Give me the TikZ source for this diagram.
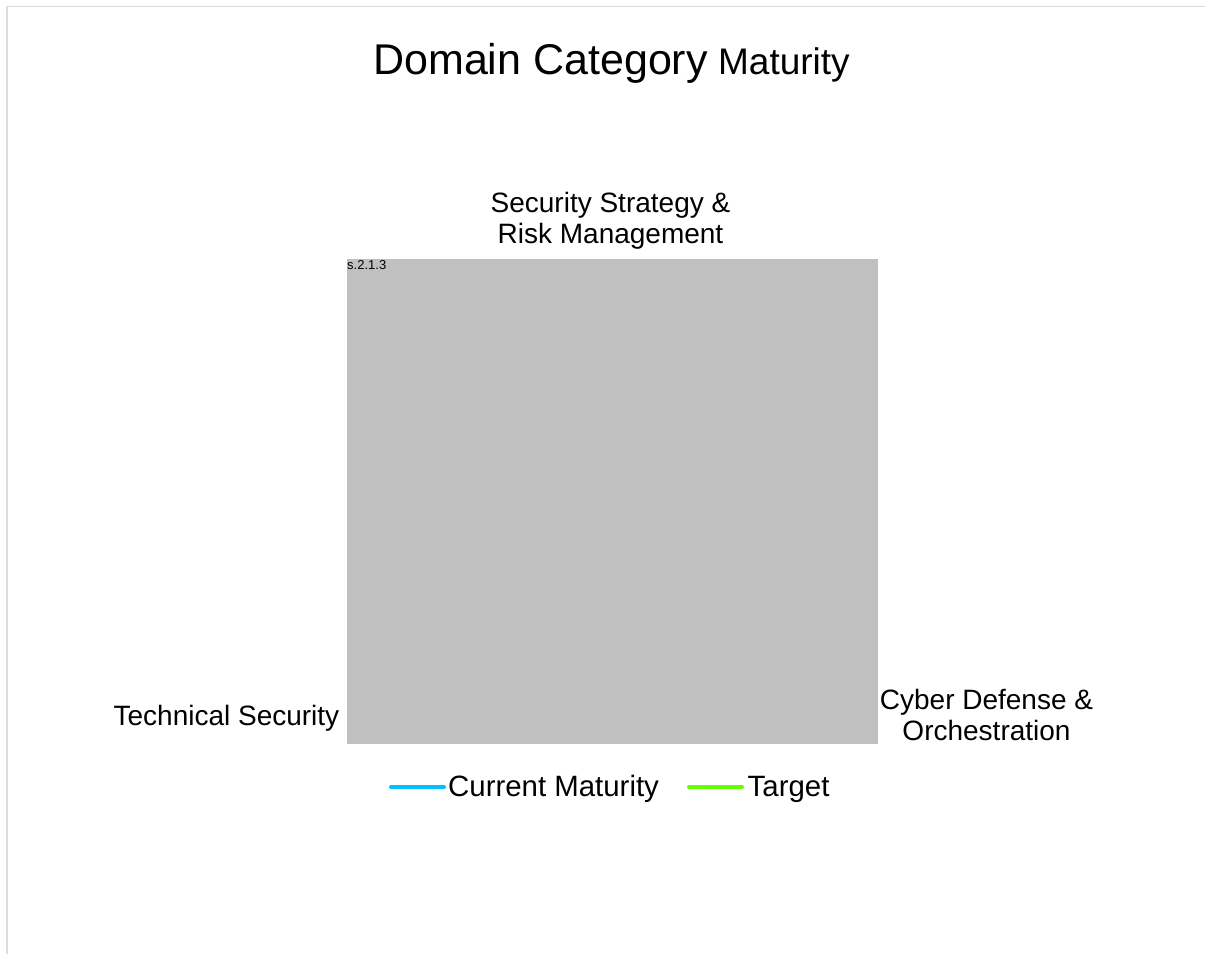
\documentclass[tikz,border=0pt]{standalone}
\usepackage{fontspec}
\setmainfont{Liberation Sans}
\usepackage{tikz}
\usetikzlibrary{positioning}

\definecolor{framegray}{RGB}{220,220,220}
\definecolor{plotgray}{RGB}{192,192,192}
\definecolor{curblue}{RGB}{0,191,255}
\definecolor{tgtgreen}{RGB}{102,255,0}

\begin{document}
\begin{tikzpicture}[x=1pt,y=-1pt,
    axislabel/.style={inner sep=0pt,font=\fontsize{28}{31}\selectfont},
    legendtext/.style={inner sep=0pt,anchor=base west,font=\fontsize{29.4}{34}\selectfont},
    legendline/.style={line width=4pt,line cap=round}]
    \pgfmathsetmacro{\xl}{347}
    \pgfmathsetmacro{\xr}{877.5}
    \pgfmathsetmacro{\yt}{259}
    \pgfmathsetmacro{\yb}{743.5}
    \pgfmathsetmacro{\yleg}{787}
    \useasboundingbox (0,0) rectangle (1205,954);
    % Draw the frame
    \draw [framegray,line width=1pt] (6,6) -- (1205,6);
    \draw [framegray,line width=2pt] (7,6) -- (7,954);
    % Draw the title
    \node [inner sep=0pt,anchor=base] (title) at (611.5,74)
        {\fontsize{43}{51}\selectfont Domain Category\fontsize{37}{44}\selectfont{} Maturity};
    % Draw the plot area
    \fill [plotgray] (\xl,\yt) rectangle (\xr,\yb);
    \node [inner sep=0pt,anchor=base west,font=\fontsize{13}{15}\selectfont] (ref) at (\xl,269) {s.2.1.3};
    % Draw the axis labels
    \node [axislabel,align=center,anchor=north] (strategy) at (610.5,192.5)
        {Security Strategy \&\\Risk Management};
    \node [axislabel,anchor=base east] (technical) at (339.5,725) {Technical Security};
    \node [axislabel,align=center,anchor=north] (defense) at (986.5,688.5)
        {Cyber Defense \&\\Orchestration};
    % Draw the legend
    \coordinate (cur a) at (391,\yleg);
    \coordinate (cur b) at (444,\yleg);
    \coordinate (tgt a) at (689,\yleg);
    \coordinate (tgt b) at (742,\yleg);
    \draw [legendline,curblue] (cur a) -- (cur b);
    \node [legendtext] (current) at (448,796) {Current Maturity};
    \draw [legendline,tgtgreen] (tgt a) -- (tgt b);
    \node [legendtext] (target) at (747.5,796) {Target};
\end{tikzpicture}
\end{document}
